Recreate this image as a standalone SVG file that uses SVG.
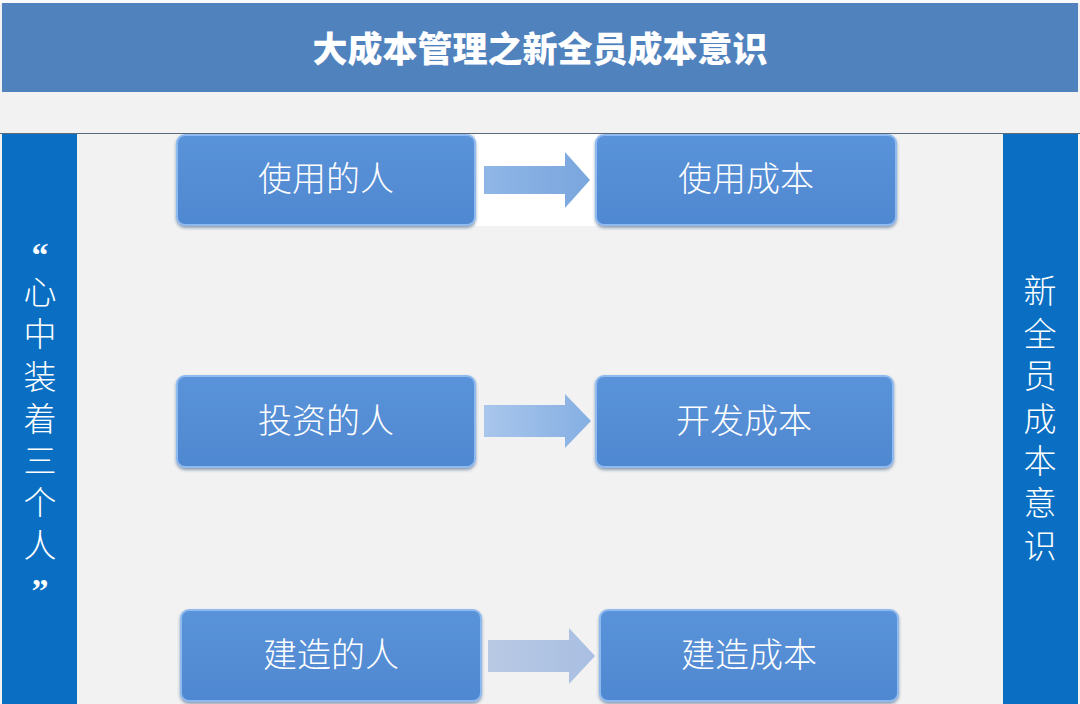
<svg xmlns="http://www.w3.org/2000/svg" width="1080" height="704" viewBox="0 0 1080 704">
<defs>
<style>
.box{fill:url(#bg);stroke:#8fbaf0;stroke-width:2;filter:url(#sh)}
.bt{font-family:"Noto Sans CJK SC","Noto Sans",sans-serif;font-size:34px;font-weight:300;fill:#ffffff;text-anchor:middle}
.vt{font-family:"Noto Sans CJK SC","Noto Sans",sans-serif;font-size:33px;font-weight:300;fill:#ffffff;text-anchor:middle}
.q{font-family:"Liberation Serif",serif;font-size:34px;font-weight:bold;fill:#ffffff;text-anchor:middle}
.bar{fill:#0a6fc2}
</style>
<linearGradient id="bg" x1="0" y1="0" x2="0" y2="1">
<stop offset="0" stop-color="#5a93d9"/>
<stop offset="1" stop-color="#4f88d0"/>
</linearGradient>
<linearGradient id="a1" x1="0" y1="0" x2="1" y2="0">
<stop offset="0" stop-color="#8fb6e6"/>
<stop offset="1" stop-color="#7aa6de"/>
</linearGradient>
<linearGradient id="a2" x1="0" y1="0" x2="1" y2="0">
<stop offset="0" stop-color="#a9c6ec"/>
<stop offset="1" stop-color="#85afe3"/>
</linearGradient>
<linearGradient id="a3" x1="0" y1="0" x2="1" y2="0">
<stop offset="0" stop-color="#b8c9e4"/>
<stop offset="1" stop-color="#a9bfe2"/>
</linearGradient>
<filter id="sh" x="-10%" y="-10%" width="120%" height="130%">
<feDropShadow dx="0" dy="2" stdDeviation="1.5" flood-color="#2a4a70" flood-opacity="0.5"/>
</filter>
</defs>
<rect x="0" y="0" width="1080" height="704" fill="#f2f2f2"/>
<rect x="0" y="0" width="1080" height="3" fill="#fafafa"/>
<g id="title">
<rect x="2" y="3" width="1076" height="89" fill="#5082be"/>
<text x="540" y="62" font-family="'Noto Sans CJK SC','Noto Sans',sans-serif" font-size="35" font-weight="900" fill="#ffffff" text-anchor="middle">大成本管理之新全员成本意识</text>
</g>
<line x1="0" y1="133.5" x2="1080" y2="133.5" stroke="#5a6a7a" stroke-width="1"/>
<rect x="475" y="134" width="123" height="92" fill="#ffffff"/>
<g id="left-bar">
<rect class="bar" x="2" y="134" width="75" height="570"/>
<text class="q" x="40" y="266">“</text>
<text class="vt" x="40" y="304">心</text>
<text class="vt" x="40" y="346">中</text>
<text class="vt" x="40" y="389">装</text>
<text class="vt" x="40" y="431">着</text>
<text class="vt" x="40" y="473">三</text>
<text class="vt" x="40" y="515">个</text>
<text class="vt" x="40" y="557">人</text>
<text class="q" x="40" y="602">”</text>
</g>
<g id="right-bar">
<rect class="bar" x="1003" y="134" width="75" height="570"/>
<text class="vt" x="1040" y="303">新</text>
<text class="vt" x="1040" y="346">全</text>
<text class="vt" x="1040" y="388">员</text>
<text class="vt" x="1040" y="431">成</text>
<text class="vt" x="1040" y="473">本</text>
<text class="vt" x="1040" y="515">意</text>
<text class="vt" x="1040" y="558">识</text>
</g>
<g id="connectors">
<path d="M484,166 H565 V152 L590,180 L565,208 V194 H484 Z" fill="url(#a1)"/>
<path d="M484,405 H565 V394 L591,421 L565,448 V437 H484 Z" fill="url(#a2)"/>
<path d="M488,640 H569 V628 L595,656 L569,684 V672 H488 Z" fill="url(#a3)"/>
</g>
<g id="n1"><rect class="box" x="177" y="135" width="298" height="90" rx="8"/><text class="bt" x="326" y="191">使用的人</text></g>
<g id="n2"><rect class="box" x="596" y="135" width="300" height="90" rx="8"/><text class="bt" x="746" y="191">使用成本</text></g>
<g id="n3"><rect class="box" x="177" y="376" width="298" height="91" rx="8"/><text class="bt" x="326" y="433">投资的人</text></g>
<g id="n4"><rect class="box" x="596" y="376" width="297" height="91" rx="8"/><text class="bt" x="744" y="433">开发成本</text></g>
<g id="n5"><rect class="box" x="181" y="610" width="300" height="91" rx="8"/><text class="bt" x="331" y="667">建造的人</text></g>
<g id="n6"><rect class="box" x="600" y="610" width="298" height="91" rx="8"/><text class="bt" x="749" y="667">建造成本</text></g>
</svg>
